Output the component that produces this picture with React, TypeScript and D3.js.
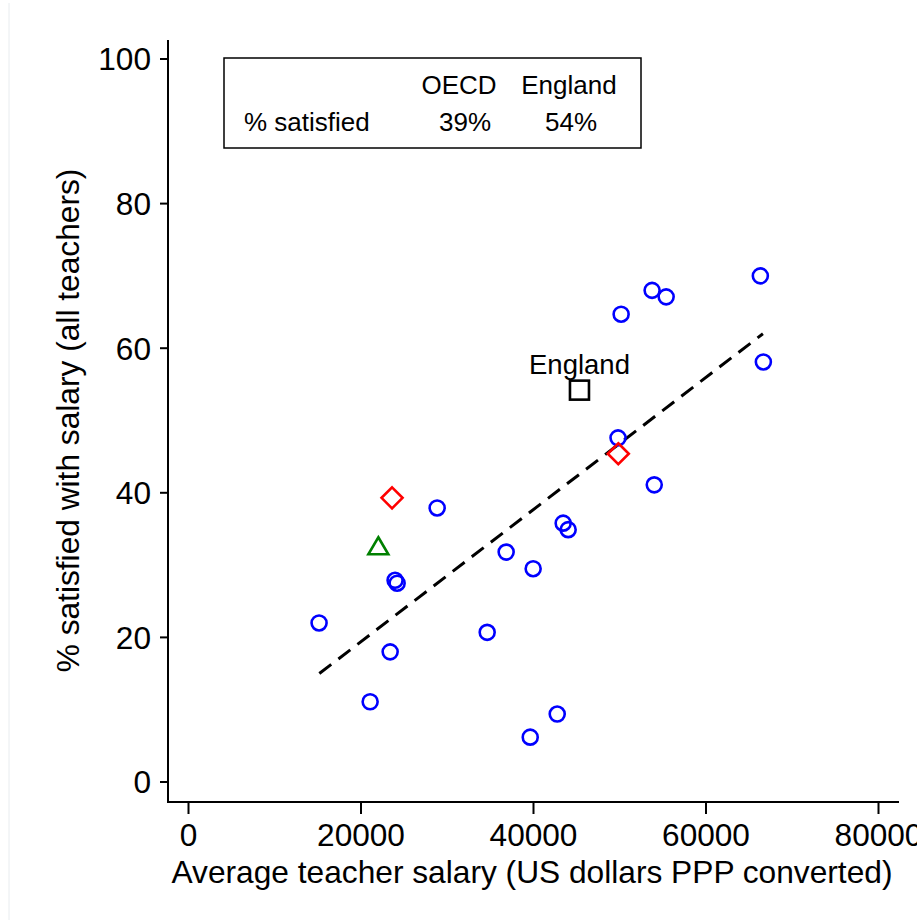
import React from "react";
import * as d3 from "d3";

// Blue circles: other countries
const salaryOther = [66300, 53750, 55380, 50160, 66650, 49800, 54000, 28830, 43440, 44020, 36830, 39960, 23950, 24190, 15140, 34630, 23380, 21060, 42750, 39620];
const satisfiedOther = [70.0, 68.0, 67.1, 64.7, 58.1, 47.6, 41.1, 37.9, 35.8, 34.9, 31.8, 29.5, 27.9, 27.5, 22.0, 20.7, 18.0, 11.1, 9.4, 6.2];
// Red diamonds
const salaryRed = [23600, 49830];
const satisfiedRed = [39.3, 45.4];
// Green triangle
const salaryGreen = [22010];
const satisfiedGreen = [32.4];
// England square
const salaryEngland = [45330];
const satisfiedEngland = [54.2];
// Fitted line endpoints
const fitX = [15170, 66600];
const fitY = [15.0, 62.0];

const xTicks = [0, 20000, 40000, 60000, 80000];
const yTicks = [0, 20, 40, 60, 80, 100];
const tableHeader = ["OECD", "England"];
const tableRowLabel = "% satisfied";
const tableValues = ["39%", "54%"];

const FONT = "'Liberation Sans', Arial, sans-serif";

export default function App() {
  const x = d3.scaleLinear().domain([0, 80000]).range([188.5, 878.5]);
  const y = d3.scaleLinear().domain([0, 100]).range([782, 59]);
  const line = d3
    .line<[number, number]>()
    .x((d) => x(d[0]))
    .y((d) => y(d[1]));
  const fitPts: [number, number][] = fitX.map((v, i) => [v, fitY[i]]);
  const circleR = 7.5;
  const dia = 10.5;
  const sq = 9.5;
  const tri = 10.5;

  return (
    <svg
      width={917}
      height={920}
      style={{ position: "absolute", left: 0, top: 0, background: "#fff" }}
      fontFamily={FONT}
    >
      <rect x={0} y={0} width={917} height={920} fill="#fff" />
      <line x1={9} x2={9} y1={3} y2={920} stroke="#e8ecef" strokeWidth={1} />
      {/* axes */}
      <line x1={168} x2={168} y1={40} y2={802} stroke="#000" strokeWidth={2} />
      <line x1={167} x2={899} y1={802} y2={802} stroke="#000" strokeWidth={2} />
      {yTicks.map((t) => (
        <g key={"y" + t}>
          <line x1={160} x2={168} y1={y(t)} y2={y(t)} stroke="#000" strokeWidth={2} />
          <text x={151} y={y(t)} dy="0.36em" textAnchor="end" fontSize={31.6}>
            {t}
          </text>
        </g>
      ))}
      {xTicks.map((t) => (
        <g key={"x" + t}>
          <line x1={x(t)} x2={x(t)} y1={802} y2={814} stroke="#000" strokeWidth={2} />
          <text x={x(t)} y={846} textAnchor="middle" fontSize={31.6}>
            {t}
          </text>
        </g>
      ))}
      <text x={532} y={883} textAnchor="middle" fontSize={31.7}>
        Average teacher salary (US dollars PPP converted)
      </text>
      <text
        transform={`translate(79, ${(y(0) + y(100)) / 2}) rotate(-90)`}
        textAnchor="middle"
        fontSize={31.7}
      >
        % satisfied with salary (all teachers)
      </text>

      {/* table box */}
      <rect x={224} y={58} width={417} height={90} fill="#fff" stroke="#000" strokeWidth={1.5} />
      <text x={459} y={94} textAnchor="middle" fontSize={26}>{tableHeader[0]}</text>
      <text x={569} y={94} textAnchor="middle" fontSize={26}>{tableHeader[1]}</text>
      <text x={244} y={131} fontSize={26}>{tableRowLabel}</text>
      <text x={465} y={131} textAnchor="middle" fontSize={26}>{tableValues[0]}</text>
      <text x={571} y={131} textAnchor="middle" fontSize={26}>{tableValues[1]}</text>

      {/* fit line */}
      <path d={line(fitPts) || ""} fill="none" stroke="#000" strokeWidth={3} strokeDasharray="15 9" />

      {/* blue circles */}
      {salaryOther.map((s, i) => (
        <circle key={"c" + i} cx={x(s)} cy={y(satisfiedOther[i])} r={circleR} fill="none" stroke="#0000ff" strokeWidth={2.6} />
      ))}
      {/* red diamonds */}
      {salaryRed.map((s, i) => {
        const cx = x(s);
        const cy = y(satisfiedRed[i]);
        return (
          <path
            key={"d" + i}
            d={`M${cx},${cy - dia}L${cx + dia},${cy}L${cx},${cy + dia}L${cx - dia},${cy}Z`}
            fill="none"
            stroke="#ff0000"
            strokeWidth={2.6}
          />
        );
      })}
      {/* green triangle */}
      {salaryGreen.map((s, i) => {
        const cx = x(s);
        const cy = y(satisfiedGreen[i]);
        return (
          <path
            key={"t" + i}
            d={`M${cx},${cy - tri}L${cx + tri * 0.95},${cy + tri * 0.62}L${cx - tri * 0.95},${cy + tri * 0.62}Z`}
            fill="none"
            stroke="#008000"
            strokeWidth={2.6}
          />
        );
      })}
      {/* England */}
      {salaryEngland.map((s, i) => {
        const cx = x(s);
        const cy = y(satisfiedEngland[i]);
        return (
          <g key={"e" + i}>
            <rect x={cx - sq} y={cy - sq} width={sq * 2} height={sq * 2} fill="none" stroke="#000" strokeWidth={2.6} />
            <text x={cx} y={cy - 16} textAnchor="middle" fontSize={27.5}>
              England
            </text>
          </g>
        );
      })}
    </svg>
  );
}
